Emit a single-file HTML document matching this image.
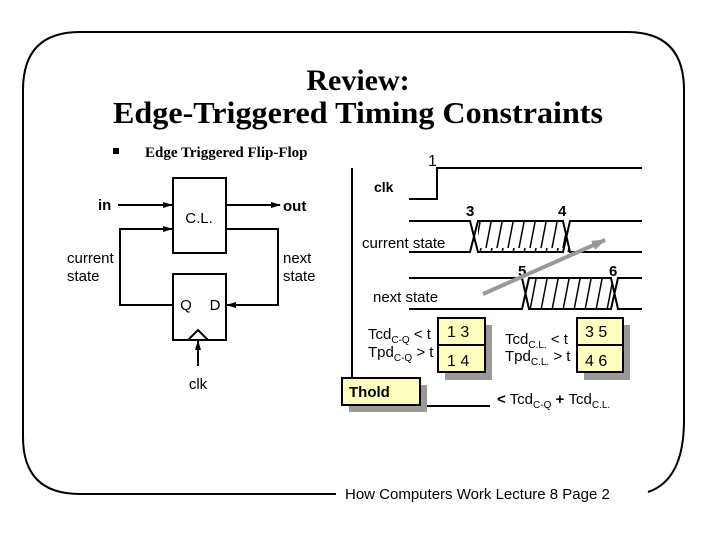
<!DOCTYPE html>
<html><head><style>
body{margin:0;background:#fff;}
svg{display:block;}
.s{font-family:"Liberation Sans",sans-serif;}
.t{font-family:"Liberation Serif",serif;font-weight:bold;}
</style></head><body>
<svg width="720" height="540" viewBox="0 0 720 540" xmlns="http://www.w3.org/2000/svg">
<defs>
<marker id="a" markerWidth="10" markerHeight="8" refX="9" refY="4" orient="auto" markerUnits="userSpaceOnUse"><path d="M0,1 L10,4 L0,7 z" fill="#000"/></marker>
<marker id="g" markerWidth="14" markerHeight="10" refX="13" refY="5" orient="auto" markerUnits="userSpaceOnUse"><path d="M0,0 L14,5 L0,10 z" fill="#999"/></marker>
<pattern id="h" width="11" height="31" patternUnits="userSpaceOnUse"><line x1="8" y1="0" x2="2" y2="31" stroke="#000" stroke-width="1.5"/></pattern>
</defs>
<path d="M336,494 L80,494 Q23,494 23,437 L23,90 Q23,32 80,32 L627,32 Q684,32 684,90 L684,420 Q684,480 648,492" fill="none" stroke="#000" stroke-width="2"/>
<text x="358" y="90" text-anchor="middle" class="t" font-size="30">Review:</text>
<text x="358" y="123" text-anchor="middle" class="t" font-size="31" textLength="490" lengthAdjust="spacingAndGlyphs">Edge-Triggered Timing Constraints</text>
<rect x="113" y="148" width="6" height="6" fill="#000"/>
<text x="145" y="157" class="t" font-size="15">Edge Triggered Flip-Flop</text>
<rect x="173" y="178" width="53" height="75" fill="#fff" stroke="#000" stroke-width="2"/>
<text x="199" y="223" text-anchor="middle" class="s" font-size="15">C.L.</text>
<rect x="173" y="274" width="53" height="66" fill="#fff" stroke="#000" stroke-width="2"/>
<path d="M188,340 L198,330 L208,340" fill="none" stroke="#000" stroke-width="2"/>
<line x1="198" y1="366" x2="198" y2="341" stroke="#000" stroke-width="2" marker-end="url(#a)"/>
<text x="198" y="389" text-anchor="middle" class="s" font-size="15">clk</text>
<text x="186" y="310" text-anchor="middle" class="s" font-size="15">Q</text>
<text x="215" y="310" text-anchor="middle" class="s" font-size="15">D</text>
<text x="98" y="210" class="s" font-size="15" font-weight="bold">in</text>
<line x1="118" y1="205" x2="172" y2="205" stroke="#000" stroke-width="2" marker-end="url(#a)"/>
<line x1="226" y1="205" x2="280" y2="205" stroke="#000" stroke-width="2" marker-end="url(#a)"/>
<text x="283" y="211" class="s" font-size="15" font-weight="bold">out</text>
<path d="M173,305 L120,305 L120,229 L172,229" fill="none" stroke="#000" stroke-width="2" marker-end="url(#a)"/>
<path d="M226,229 L278,229 L278,305 L227,305" fill="none" stroke="#000" stroke-width="2" marker-end="url(#a)"/>
<text x="67" y="263" class="s" font-size="15">current</text>
<text x="67" y="281" class="s" font-size="15">state</text>
<text x="283" y="263" class="s" font-size="15">next</text>
<text x="283" y="281" class="s" font-size="15">state</text>
<path d="M352,168 L352,406 L490,406" fill="none" stroke="#000" stroke-width="2"/>
<text x="428" y="166" class="s" font-size="16">1</text>
<path d="M409,199 L437,199 L437,168 L642,168" fill="none" stroke="#000" stroke-width="2"/>
<text x="374" y="192" class="s" font-size="14" font-weight="bold">clk</text>
<text x="466" y="216" class="s" font-size="15" font-weight="bold">3</text>
<text x="558" y="216" class="s" font-size="15" font-weight="bold">4</text>
<polygon points="478,221 563,221 570,252 478,252" fill="url(#h)"/>
<path d="M409,221 L470,221 L478,252 L563,252 L570,221 L642,221 M409,252 L470,252 L478,221 L563,221 L570,252 L642,252" fill="none" stroke="#000" stroke-width="2"/>
<text x="362" y="248" class="s" font-size="15">current state</text>
<text x="518" y="276" class="s" font-size="15" font-weight="bold">5</text>
<text x="609" y="276" class="s" font-size="15" font-weight="bold">6</text>
<polygon points="529,278 611,278 618,309 529,309" fill="url(#h)"/>
<path d="M409,278 L522,278 L529,309 L611,309 L618,278 L642,278 M409,309 L522,309 L529,278 L611,278 L618,309 L642,309" fill="none" stroke="#000" stroke-width="2"/>
<text x="373" y="302" class="s" font-size="15">next state</text>
<line x1="483" y1="294" x2="605" y2="240" stroke="#999" stroke-width="4" marker-end="url(#g)"/>
<text x="368" y="339" class="s" font-size="15">Tcd<tspan font-size="10" dy="4">C-Q</tspan><tspan dy="-4"> &lt; t</tspan></text>
<text x="368" y="357" class="s" font-size="15">Tpd<tspan font-size="10" dy="4">C-Q</tspan><tspan dy="-4"> &gt; t</tspan></text>
<rect x="445" y="325" width="47" height="55" fill="#999"/>
<rect x="438" y="318" width="47" height="27" fill="#ffffc0" stroke="#000" stroke-width="2"/>
<rect x="438" y="345" width="47" height="27" fill="#ffffc0" stroke="#000" stroke-width="2"/>
<text x="447" y="337" class="s" font-size="16">1 3</text>
<text x="447" y="366" class="s" font-size="16">1 4</text>
<text x="505" y="344" class="s" font-size="15">Tcd<tspan font-size="10" dy="4">C.L.</tspan><tspan dy="-4"> &lt; t</tspan></text>
<text x="505" y="361" class="s" font-size="15">Tpd<tspan font-size="10" dy="4">C.L.</tspan><tspan dy="-4"> &gt; t</tspan></text>
<rect x="584" y="325" width="46" height="55" fill="#999"/>
<rect x="577" y="318" width="46" height="27" fill="#ffffc0" stroke="#000" stroke-width="2"/>
<rect x="577" y="345" width="46" height="27" fill="#ffffc0" stroke="#000" stroke-width="2"/>
<text x="585" y="337" class="s" font-size="16">3 5</text>
<text x="585" y="366" class="s" font-size="16">4 6</text>
<rect x="349" y="385" width="78" height="27" fill="#999"/>
<rect x="342" y="378" width="78" height="27" fill="#ffffc0" stroke="#000" stroke-width="2"/>
<text x="349" y="397" class="s" font-size="15" font-weight="bold">Thold</text>
<text x="497" y="404" class="s" font-size="15"><tspan font-weight="bold">&lt;</tspan> Tcd<tspan font-size="10" dy="4">C-Q</tspan><tspan dy="-4" font-weight="bold"> + </tspan>Tcd<tspan font-size="10" dy="4">C.L.</tspan></text>
<text x="345" y="499" class="s" font-size="15">How Computers Work Lecture 8 Page 2</text>
</svg>
</body></html>
